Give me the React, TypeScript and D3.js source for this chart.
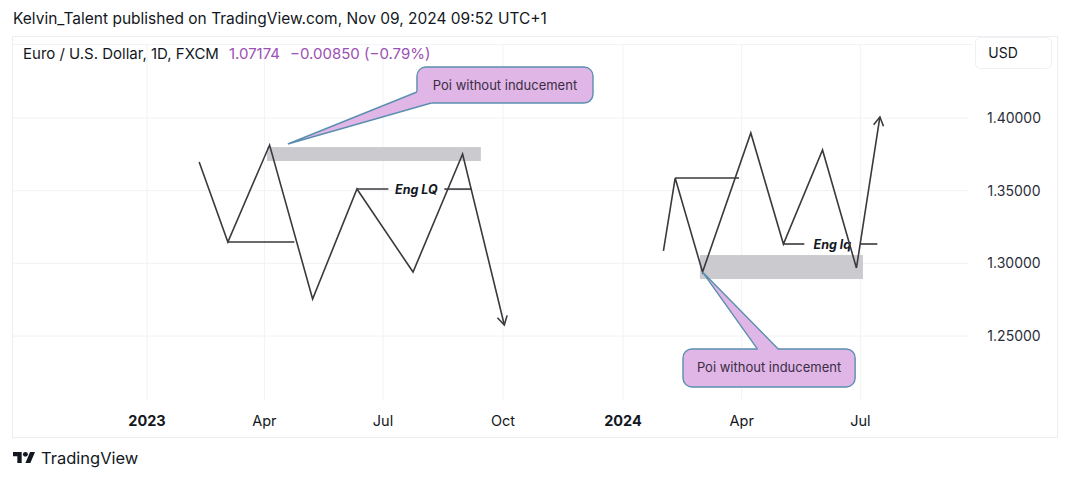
import React from "react";
import * as d3 from "d3";

// ---------- data ----------
const leftDates = ["2023-02-10", "2023-03-04", "2023-04-05", "2023-05-08", "2023-06-11", "2023-07-24", "2023-08-31", "2023-10-02"];
const leftPrices = [1.3697, 1.3147, 1.3814, 1.2755, 1.3511, 1.294, 1.3752, 1.2576];

const rightDates = ["2024-02-01", "2024-02-10", "2024-03-02", "2024-04-08", "2024-05-03", "2024-06-02", "2024-06-28", "2024-07-16"];
const rightPrices = [1.3085, 1.3587, 1.294, 1.3897, 1.3133, 1.378, 1.2968, 1.4007];

// horizontal level lines: [startDate, endDate, price, label]
const levelStarts = ["2023-03-04", "2023-06-11", "2024-02-10", "2024-05-03"];
const levelEnds = ["2023-04-24", "2023-09-07", "2024-03-30", "2024-07-14"];
const levelPrices = [1.3147, 1.3511, 1.3587, 1.3133];
const levelLabels = ["", "Eng LQ", "", "Eng lq"];

// grey zones
const zoneStarts = ["2023-04-03", "2024-02-29"];
const zoneEnds = ["2023-09-14", "2024-07-03"];
const zoneTops = [1.38, 1.3057];
const zoneBottoms = [1.3704, 1.2892];

// callouts
const calloutTexts = ["Poi without inducement", "Poi without inducement"];
const calloutBoxStart = ["2023-07-27", "2024-02-16"];
const calloutBoxEnd = ["2023-12-09", "2024-06-27"];
const calloutBoxTop = [1.4351, 1.2411];
const calloutBoxBottom = [1.4103, 1.2149];
const calloutTipDate = ["2023-04-19", "2024-03-02"];
const calloutTipPrice = [1.3821, 1.294];
const calloutBaseADate = ["2023-07-27", "2024-04-13"];
const calloutBaseAPrice = [1.4179, 1.2411];
const calloutBaseBDate = ["2023-08-07", "2024-04-29"];
const calloutBaseBPrice = [1.4103, 1.2411];

// axes
const xTickDates = ["2023-01-01", "2023-04-01", "2023-07-01", "2023-10-01", "2024-01-01", "2024-04-01", "2024-07-01"];
const xTickLabels = ["2023", "Apr", "Jul", "Oct", "2024", "Apr", "Jul"];
const xTickBold = [true, false, false, false, true, false, false];
const yTicks = [1.4, 1.35, 1.3, 1.25];

const W = 1069;
const H = 481;
const parse = d3.utcParse("%Y-%m-%d");
const FONT = "Inter, 'Noto Sans', sans-serif";

export default function App() {
  const x = d3.scaleUtc().domain([parse("2023-01-01")!, parse("2024-01-01")!]).range([147, 623]);
  const y = d3.scaleLinear().domain([1.25, 1.4]).range([336, 118]);
  const X = (s: string) => x(parse(s)!);

  const line = d3.line<[number, number]>().x((d) => d[0]).y((d) => d[1]);
  const zig = (dates: string[], prices: number[]) =>
    dates.map((d, i) => [X(d), y(prices[i])] as [number, number]);

  const arrowHead = (pts: [number, number][]) => {
    const [x0, y0] = pts[pts.length - 2];
    const [x1, y1] = pts[pts.length - 1];
    const a = Math.atan2(y1 - y0, x1 - x0);
    const L = 10;
    const s = Math.PI / 6;
    const p1: [number, number] = [x1 - L * Math.cos(a - s), y1 - L * Math.sin(a - s)];
    const p2: [number, number] = [x1 - L * Math.cos(a + s), y1 - L * Math.sin(a + s)];
    return line([p1, [x1, y1], p2]) || "";
  };

  const leftPts = zig(leftDates, leftPrices);
  const rightPts = zig(rightDates, rightPrices);
  const lineColor = "#3a3a3e";

  return (
    <svg width={W} height={H} style={{ position: "absolute", left: 0, top: 0, background: "#fff" }} fontFamily={FONT}>
      <rect x={0} y={0} width={W} height={H} fill="#fff" />
      {/* header */}
      <text x={13} y={24} fontSize={15.5} fill="#131722">
        Kelvin_Talent published on TradingView.com, Nov 09, 2024 09:52 UTC+1
      </text>
      {/* panel */}
      <rect x={12.5} y={36.5} width={1045} height={401} fill="#fff" stroke="#eceef2" />
      <line x1={13} x2={972} y1={44.5} y2={44.5} stroke="#f1f3f6" />
      {/* grid */}
      {yTicks.map((t) => (
        <line key={"gy" + t} x1={13} x2={968} y1={y(t)} y2={y(t)} stroke="#f0f2f5" />
      ))}
      {xTickDates.map((d) => (
        <line key={"gx" + d} x1={X(d)} x2={X(d)} y1={45} y2={400} stroke="#f0f2f5" />
      ))}
      {/* legend */}
      <text x={23} y={59} fontSize={15} fill="#131722">
        Euro / U.S. Dollar, 1D, FXCM
        <tspan dx={10} fill="#9c4fb4">1.07174</tspan>
        <tspan dx={10} fill="#9c4fb4">−0.00850 (−0.79%)</tspan>
      </text>
      {/* USD box */}
      <rect x={975.5} y={37.5} width={76} height={31} rx={5} fill="#fff" stroke="#eef0f3" />
      <text x={1003} y={58} fontSize={14} fill="#131722" textAnchor="middle">USD</text>
      {/* y labels */}
      {yTicks.map((t) => (
        <text key={"yl" + t} x={1014} y={y(t) + 5} fontSize={14} fill="#2a2e39" textAnchor="middle">
          {t.toFixed(5)}
        </text>
      ))}
      {/* x labels */}
      {xTickDates.map((d, i) => (
        <text
          key={"xl" + d}
          x={X(d)}
          y={426}
          fontSize={14.5}
          fontWeight={xTickBold[i] ? 700 : 400}
          fill="#131722"
          textAnchor="middle"
        >
          {xTickLabels[i]}
        </text>
      ))}
      {/* zones */}
      {zoneStarts.map((s, i) => (
        <rect
          key={"z" + i}
          x={X(s)}
          y={y(zoneTops[i])}
          width={X(zoneEnds[i]) - X(s)}
          height={y(zoneBottoms[i]) - y(zoneTops[i])}
          fill="#cbcbcf"
        />
      ))}
      {/* level lines */}
      {levelStarts.map((s, i) => {
        const x1 = X(s);
        const x2 = X(levelEnds[i]);
        const yy = y(levelPrices[i]);
        const lab = levelLabels[i];
        if (!lab) return <line key={"l" + i} x1={x1} x2={x2} y1={yy} y2={yy} stroke={lineColor} strokeWidth={1.6} />;
        const cx = (x1 + x2) / 2 + 2;
        const half = 28;
        return (
          <g key={"l" + i}>
            <line x1={x1} x2={cx - half} y1={yy} y2={yy} stroke={lineColor} strokeWidth={1.6} />
            <line x1={cx + half} x2={x2} y1={yy} y2={yy} stroke={lineColor} strokeWidth={1.6} />
            <text x={cx} y={yy + 4.5} fontSize={12.5} fontWeight={700} fontStyle="italic" textAnchor="middle" fill="#131722">
              {lab}
            </text>
          </g>
        );
      })}
      {/* zigzags */}
      <path d={line(leftPts) || ""} fill="none" stroke={lineColor} strokeWidth={1.6} strokeLinejoin="miter" />
      <path d={arrowHead(leftPts)} fill="none" stroke={lineColor} strokeWidth={1.6} />
      <path d={line(rightPts) || ""} fill="none" stroke={lineColor} strokeWidth={1.6} strokeLinejoin="miter" />
      <path d={arrowHead(rightPts)} fill="none" stroke={lineColor} strokeWidth={1.6} />
      {/* callouts */}
      {calloutTexts.map((t, i) => {
        const bx = X(calloutBoxStart[i]);
        const bw = X(calloutBoxEnd[i]) - bx;
        const by = y(calloutBoxTop[i]);
        const bh = y(calloutBoxBottom[i]) - by;
        const tip: [number, number] = [X(calloutTipDate[i]), y(calloutTipPrice[i])];
        const a: [number, number] = [X(calloutBaseADate[i]), y(calloutBaseAPrice[i])];
        const b: [number, number] = [X(calloutBaseBDate[i]), y(calloutBaseBPrice[i])];
        const cx = bx + bw / 2;
        const cy = by + bh / 2;
        const inside = (p: [number, number]): [number, number] => [p[0] + Math.sign(cx - p[0]) * 4, p[1] + Math.sign(cy - p[1]) * 4];
        const fill = "#dfb6e6";
        const stroke = "#5b8fb0";
        return (
          <g key={"c" + i}>
            <rect x={bx} y={by} width={bw} height={bh} rx={9} fill={fill} stroke={stroke} strokeWidth={1.4} />
            <path d={(line([tip, a, inside(a), inside(b), b]) || "") + "Z"} fill={fill} stroke="none" />
            <path d={line([a, tip, b]) || ""} fill="none" stroke={stroke} strokeWidth={1.4} />
            <text x={cx} y={cy + 4.5} fontSize={13} fill="#3c2c44" textAnchor="middle">
              {t}
            </text>
          </g>
        );
      })}
      {/* TradingView logo */}
      <g transform="translate(13,449.4) scale(0.62)" fill="#131722">
        <path d="M14 22H7V11H0V4h14v18z" />
        <circle cx={20} cy={8} r={4} />
        <path d="M28 22h-8l7.5-18h8L28 22z" />
      </g>
      <text x={41} y={464} fontSize={16.5} fill="#131722">TradingView</text>
    </svg>
  );
}
